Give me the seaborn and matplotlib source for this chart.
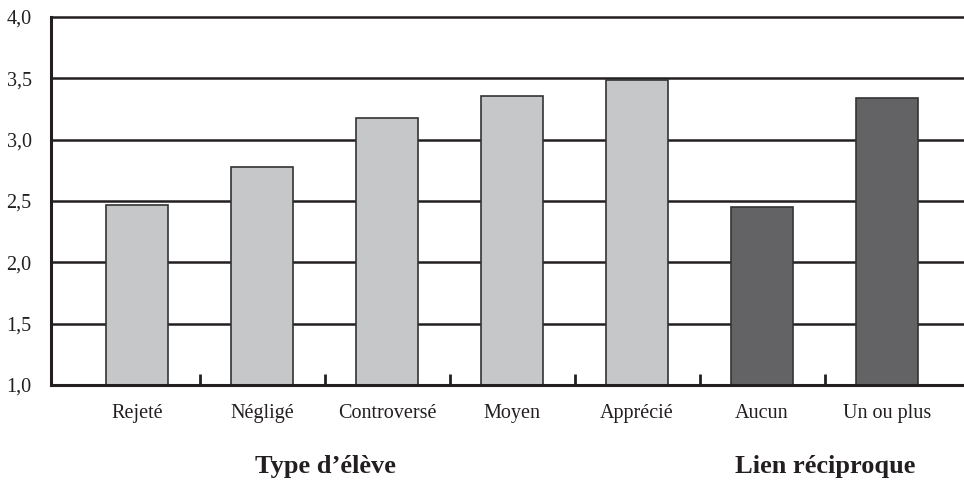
import matplotlib
matplotlib.use("Agg")
import matplotlib.pyplot as plt
import seaborn as sns
import pandas as pd
from matplotlib.ticker import FixedLocator, FuncFormatter

categories = ["Rejeté", "Négligé", "Controversé", "Moyen", "Apprécié", "Aucun", "Un ou plus"]
values = [2.47, 2.78, 3.18, 3.36, 3.49, 2.45, 3.34]
groups = ["Type d'élève"] * 5 + ["Lien réciproque"] * 2
group_titles = ["Type d’élève", "Lien réciproque"]
yticks = [1.0, 1.5, 2.0, 2.5, 3.0, 3.5, 4.0]

df = pd.DataFrame({"cat": categories, "val": values, "grp": groups})

sns.set_style("white")
plt.rcParams['font.family'] = ['Liberation Serif', 'DejaVu Serif']

fig = plt.figure(figsize=(9.64, 4.84), dpi=100)
ax = fig.add_axes([51/964, 99/484, 1 - 51/964, 368/484])

sns.barplot(data=df, x="cat", y="val", hue="grp", dodge=False, width=0.5,
            palette={"Type d'élève": "#c6c7c9", "Lien réciproque": "#636365"},
            edgecolor="#333333", linewidth=1.2, legend=False, ax=ax, zorder=3)

ax.set_ylim(1.0, 4.0)
ax.set_xlim(-0.688, 6.616)
ax.set_yticks(yticks)
ax.yaxis.set_major_formatter(FuncFormatter(lambda v, p: f"{v:.1f}".replace(".", ",")))
ax.set_axisbelow(True)
for y in yticks[1:]:
    ax.axhline(y, color="#231f20", lw=1.8, zorder=1, clip_on=False)

for s in ["top", "right"]:
    ax.spines[s].set_visible(False)
for s in ["left", "bottom"]:
    ax.spines[s].set_linewidth(2.2)
    ax.spines[s].set_color("#231f20")
    ax.spines[s].set_zorder(4)

ax.tick_params(axis="y", left=False, length=0, pad=14, labelsize=14.5, colors="#231f20")
ax.tick_params(axis="x", which="major", bottom=False, length=0, pad=14, labelsize=14.5, colors="#231f20")
ax.xaxis.set_minor_locator(FixedLocator([i + 0.5 for i in range(6)]))
ax.tick_params(axis="x", which="minor", bottom=True, direction="in", length=8, width=2, color="#231f20")
ax.set_xlabel("")
ax.set_ylabel("")

fig.text(325/964, 1 - 466/484, group_titles[0], ha="center", va="center",
         fontsize=19, fontweight="bold", color="#231f20")
fig.text(825/964, 1 - 466/484, group_titles[1], ha="center", va="center",
         fontsize=19, fontweight="bold", color="#231f20")

fig.savefig("out.png", dpi=100)
